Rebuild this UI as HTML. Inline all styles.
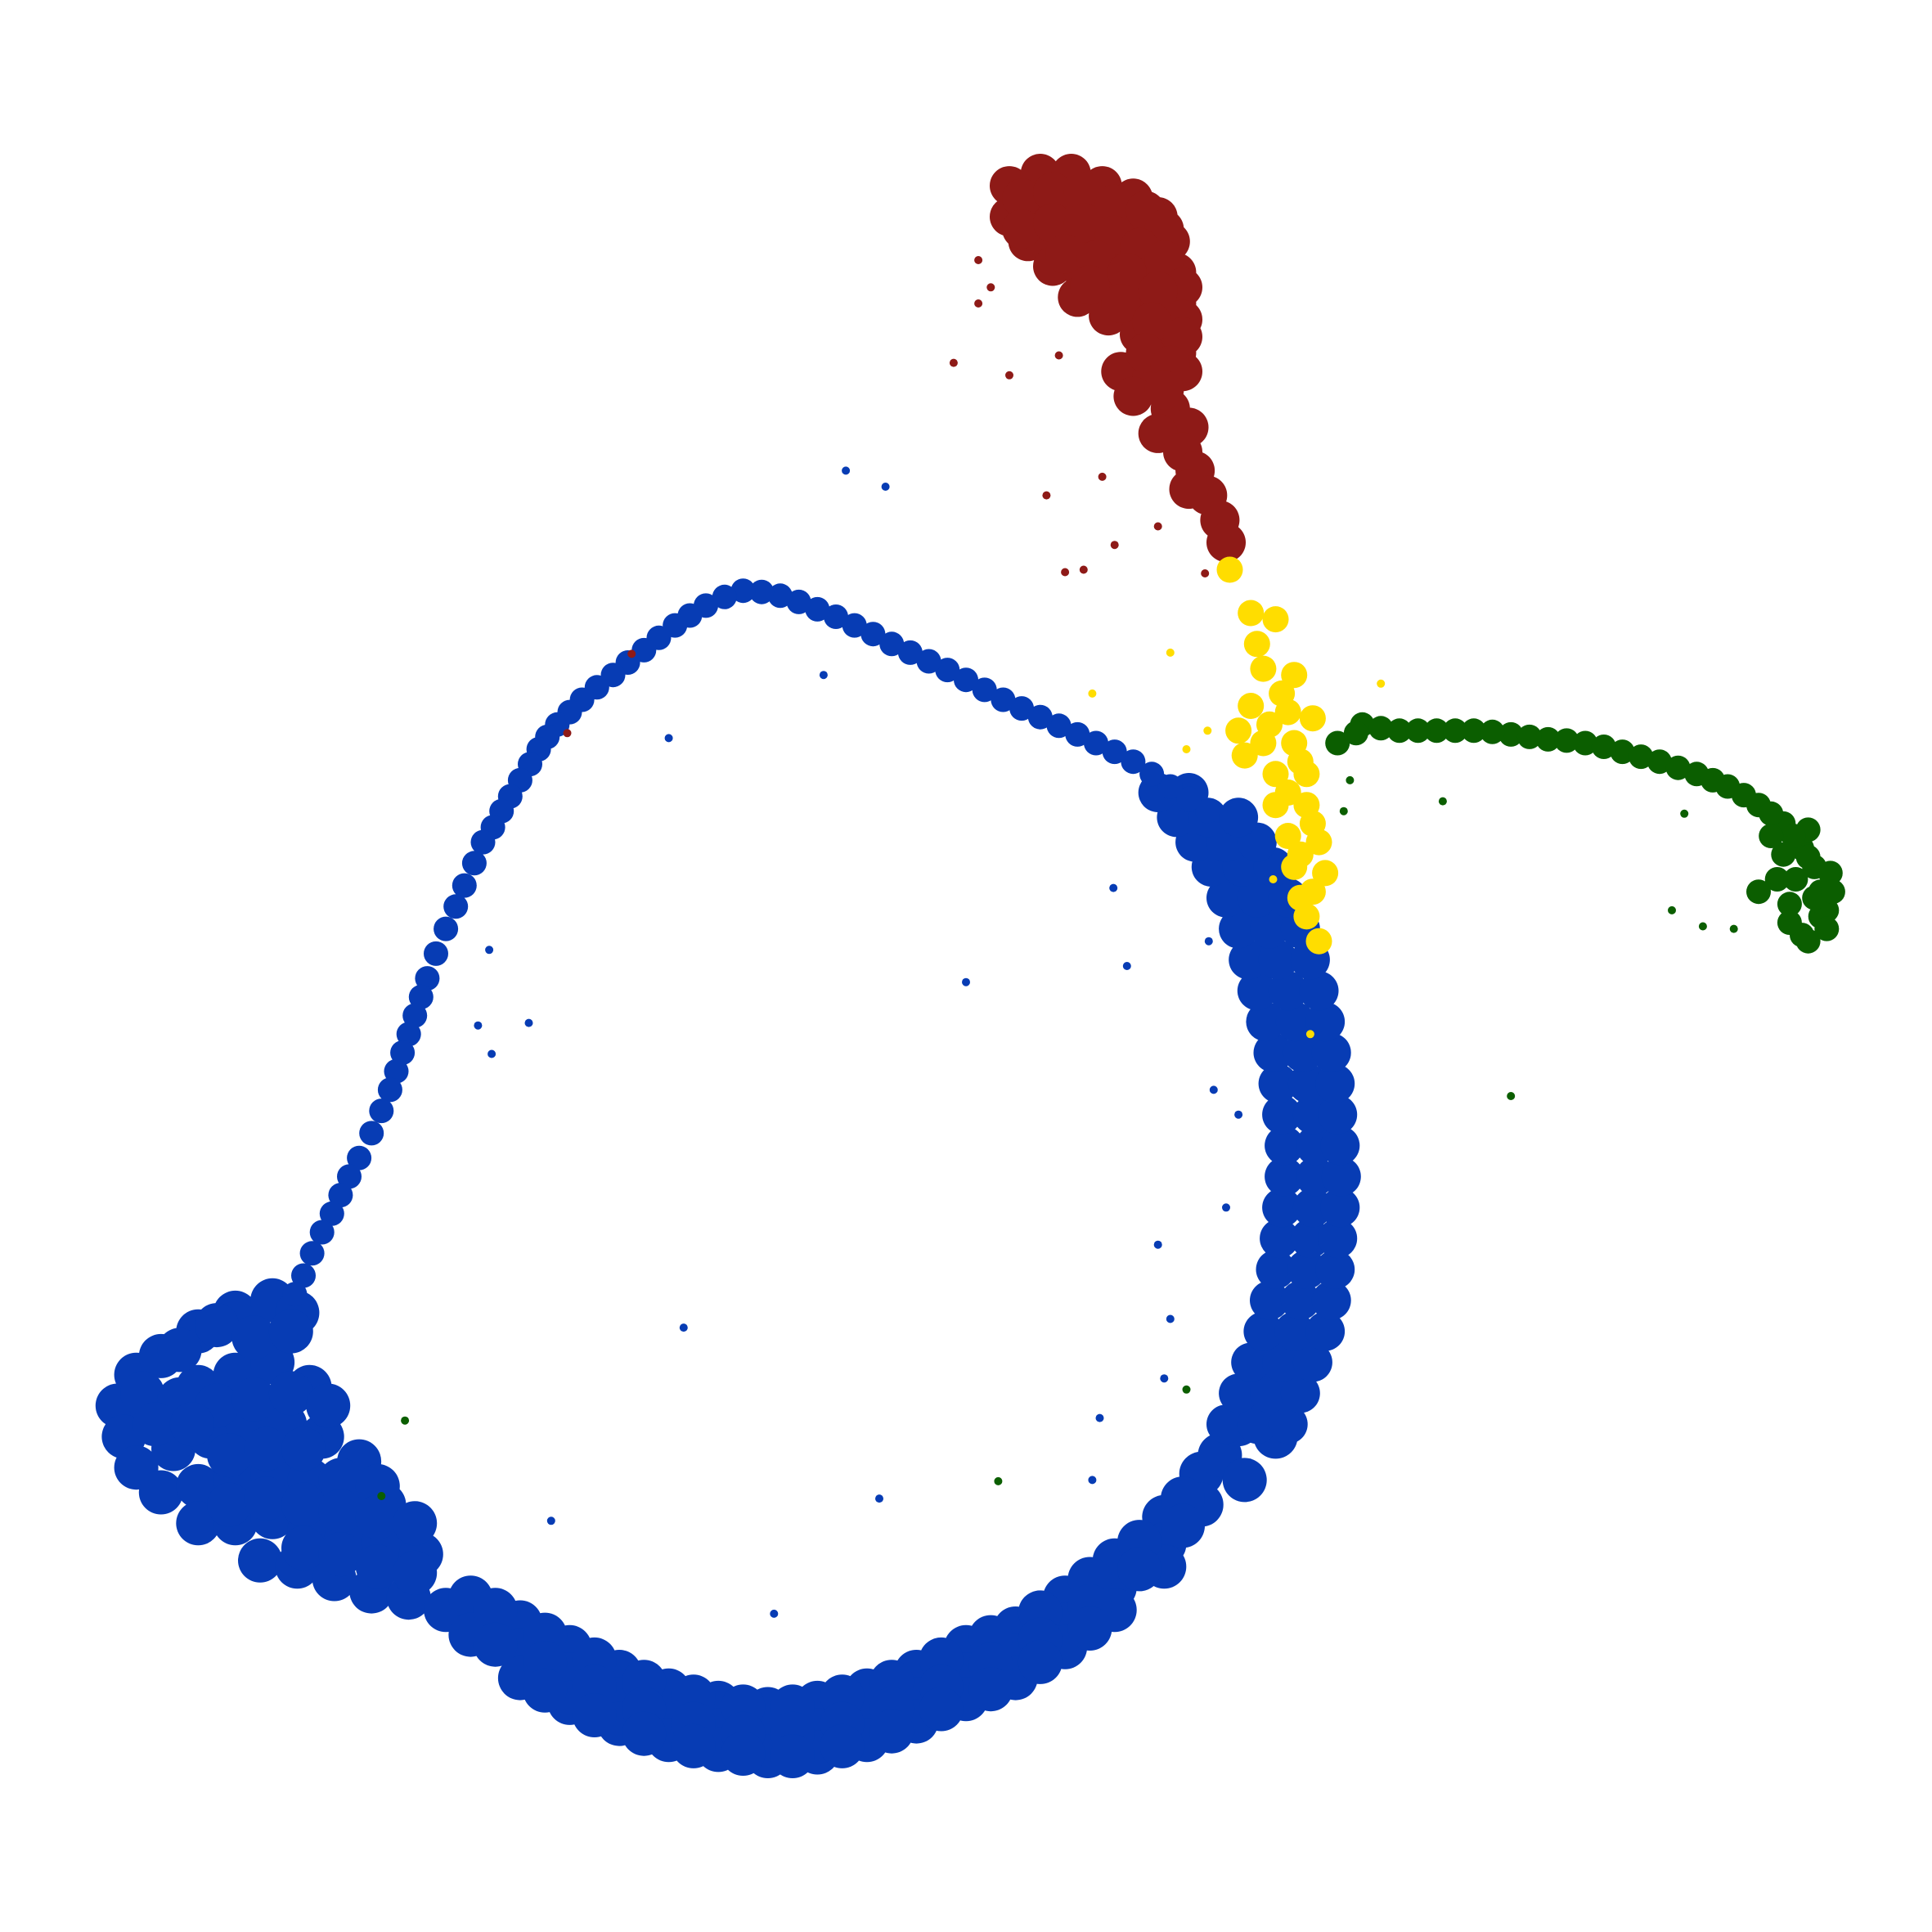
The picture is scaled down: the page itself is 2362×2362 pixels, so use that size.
<!DOCTYPE html>
<html><head><meta charset="utf-8"><style>
html,body{margin:0;padding:0;background:#fff}
svg{display:block}
</style></head><body>
<svg id="chart" width="2362" height="2362" viewBox="0 0 2362 2362" xmlns="http://www.w3.org/2000/svg">
<rect width="2362" height="2362" fill="#fff"/>
<g id="layer"></g>
</svg>
<script>
// embedding coordinates (display units, 0..1560)
const blueCoreX = [95,110,130,160,190,220,240, 100,130,160,190,220,250, 110,140,170,200,230,260,290, 130,160,190,220,250,280,310, 160,190,220,250,280,310,340, 210,240,270,300,330,360,
 145,175,205,235,115,145,175,205,235,265,125,155,185,215,245,275,305,185,215,245,275,305,335,245,275,305,335,
 380,380,420,420,420,460,460,460,500,500,500,540,540,540,580,580,580,620,620,620,660,660,660,700,700,700,740,740,740,780,780,780,820,820,820,860,860,860,900,900,900,940,940,940,970,970,985,1000,1005,1020,1030,
 400,400,440,440,440,480,480,480,520,520,520,560,560,560,600,600,600,640,640,640,680,680,680,720,720,720,760,760,760,800,800,800,840,840,840,880,880,880,920,920,955,955];
const blueCoreY = [1135,1110,1095,1075,1060,1050,1060, 1160,1140,1120,1110,1100,1120, 1185,1170,1160,1150,1150,1160,1180, 1205,1200,1195,1190,1195,1205,1215, 1230,1230,1225,1235,1240,1245,1255, 1260,1265,1275,1285,1290,1300,
 1090,1070,1080,1075,1125,1130,1135,1130,1125,1135,1150,1150,1175,1170,1170,1195,1200,1215,1210,1215,1220,1225,1230,1250,1255,1265,1270,
 1290,1320,1310,1333,1355,1330,1352,1375,1350,1372,1392,1365,1387,1405,1375,1397,1413,1380,1402,1418,1375,1397,1415,1365,1387,1405,1350,1372,1390,1330,1352,1372,1315,1337,1355,1290,1312,1330,1260,1282,1300,1225,1247,1265,1190,1215,1175,1150,1195,1110,1160,
 1300,1328,1320,1343,1365,1340,1362,1385,1358,1380,1400,1370,1392,1410,1378,1400,1416,1378,1400,1418,1370,1392,1410,1358,1380,1398,1340,1362,1380,1322,1344,1364,1302,1324,1342,1275,1297,1315,1245,1267,1210,1232];
const blueSideX = [990,1015,1040, 1000,1025,1050, 1010,1035,1060, 1020,1045,1070, 1025,1050,1075, 1030,1055,1078, 1033,1058,1080, 1035,1060,1082, 1037,1062,1083, 1037,1062,1082, 1035,1060,1080, 1032,1056,1078, 1028,1052,1075, 1022,1046,1070, 1015,1040,1065, 1008,1032,1058, 1000,1025,1050, 990,1015,1040, 978,1003,1028, 965,990,1015, 950,975,1000, 935,960];
const blueSideY = [1150,1150,1150, 1125,1125,1125, 1100,1100,1100, 1075,1075,1075, 1050,1050,1050, 1025,1025,1025, 1000,1000,1000, 975,975,975, 950,950,950, 925,925,925, 900,900,900, 875,875,875, 850,850,850, 825,825,825, 800,800,800, 775,775,775, 750,750,750, 725,725,725, 700,700,700, 680,680,680, 660,660,660, 640,640];
const blueArmX = [975,960,945,930,915,900,885,870,855,840,825,810,795,780,765,750,735,720,705,690,675,660,645,630,615,600,585,570,557,545,532,520,507,495,482,470,460,450,442,435,428,420,412,405,398,390,383,375,368,360,352,345,340,335,330,325,320,315,308,300,290,282,275,268,260,252,245,238];
const blueArmY = [655,645,635,625,615,607,600,593,586,579,572,565,557,549,541,534,527,520,512,505,498,492,486,481,478,477,482,489,497,505,515,525,535,545,555,565,575,585,595,605,617,630,643,655,668,680,697,715,732,750,770,790,805,820,835,850,865,880,897,915,935,950,965,980,995,1012,1030,1045];
const blueOutX = [683,540,780,910,935,552,888,710,445,395,386,427,397,899,945,940,882,715,665,625,980,1000,976,990];
const blueOutY = [380,596,793,780,1005,1072,1145,1210,1228,767,828,826,851,717,1065,1113,1195,393,545,1303,880,900,760,975];

const redCoreX = [815,840,865,890,915,935,945, 815,840,865,890,915,935,950, 830,855,880,905,930,950, 850,875,900,925,945, 870,895,920,950, 905,930,955,915,945,960,935,955,965,975,985,990,960,
 825,850,875,900,925,940,825,850,875,900,920,940,955,860,885,910,935,955,880,905,930,955,925,945,940];
const redCoreY = [150,140,140,150,160,175,195, 175,165,165,175,185,200,220, 195,190,195,205,220,245, 215,220,230,245,265, 240,255,270,285, 300,305,300,320,330,345,350,365,380,400,420,438,395,
 160,155,155,165,170,185,185,180,180,190,200,210,232,205,210,220,235,258,230,245,260,272,285,295,315];
const redOutX = [790,790,770,815,855,845,860,875,900,935,890,973,800,510,458];
const redOutY = [210,245,293,303,287,400,462,460,440,425,385,463,232,528,592];

const yellowCoreX = [993,1010,1030,1020,1045,1010,1040,1060,1020,1045,1030,1055,1030,1055,1040,1065,1045,1060,1055,1065,1000,1005, 1015,1035,1025,1050,1040,1060,1050,1070,1050];
const yellowCoreY = [460,495,500,540,545,570,575,580,600,600,625,625,650,650,675,680,700,720,740,760,590,610, 520,560,585,615,640,665,690,705,725];
const yellowOutX = [945,882,1115,975,958,1058,1028];
const yellowOutY = [527,560,552,590,605,835,710];

const greenCoreX = [1080,1100,1130,1160,1190,1220,1250,1280,1310,1340,1370,1395,1420,1440,1455,1465,1470,1470,1455,1445,1435,1450,1420,1460,1478,1475,
 1095,1115,1145,1175,1205,1235,1265,1295,1325,1355,1383,1408,1430,1448,1460,1440,1430,1445,1460,1475,1465,1480];
const greenCoreY = [600,585,590,590,590,593,597,600,607,615,625,635,650,665,685,700,720,740,755,730,710,710,720,670,705,735,
 592,588,590,590,591,595,598,603,611,620,630,642,657,675,692,690,675,745,760,750,725,720];
const greenOutX = [1220,1350,1375,1400,1165,1090,1360,1085,327,806,958,308];
const greenOutY = [885,735,748,750,647,630,657,655,1147,1196,1122,1208];

const S = 2362/1560;
function sx(v){ return v*S; }
function sy(v){ return v*S; }
const layer = document.getElementById('layer');
function draw(xs, ys, r, color, name){
  for(let i=0;i<xs.length;i++){
    const c = document.createElementNS('http://www.w3.org/2000/svg','circle');
    c.setAttribute('cx', sx(xs[i]).toFixed(1));
    c.setAttribute('cy', sy(ys[i]).toFixed(1));
    c.setAttribute('r', r);
    c.setAttribute('fill', color);
    
    
    layer.appendChild(c);
  }
}
draw(blueCoreX, blueCoreY, 27, '#073cb4', 'cell-point-blue');
draw(blueSideX, blueSideY, 24, '#073cb4', 'cell-point-blue');
draw(blueArmX, blueArmY, 15, '#073cb4', 'cell-point-blue');
draw(blueOutX, blueOutY, 5, '#073cb4', 'cell-point-blue');
draw(redCoreX, redCoreY, 24, '#8e1a17', 'cell-point-red');
draw(redOutX, redOutY, 5, '#8e1a17', 'cell-point-red');
draw(yellowCoreX, yellowCoreY, 16, '#ffdd00', 'cell-point-yellow');
draw(yellowOutX, yellowOutY, 5, '#ffdd00', 'cell-point-yellow');
draw(greenCoreX, greenCoreY, 15, '#0b5e00', 'cell-point-green');
draw(greenOutX, greenOutY, 5, '#0b5e00', 'cell-point-green');
</script>
</body></html>
